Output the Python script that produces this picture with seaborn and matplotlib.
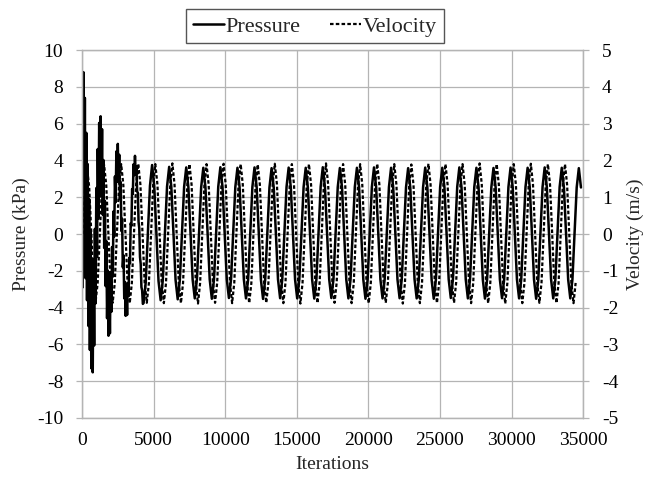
import numpy as np
import pandas as pd
import matplotlib
matplotlib.use("Agg")
import matplotlib.pyplot as plt
import seaborn as sns

# === DATOS ===
# presion al inicio (cada 50 iteraciones, con el ruido de alta frecuencia)
pressure_early = [
    5.0, -2.9, 8.8, -1.5, 7.4, -2.4, 5.5, -3.6, 3.8, -5.0,
    1.9, -6.3, 0.2, -7.3, -2.0, -7.52, -1.39, -6.06, 0.28, -3.77,
    2.5, -1.25, 4.62, 0.85, 6.04, 2.03, 6.4, 2.09, 5.7, 1.05,
    4.02, -0.76, 1.8, -2.83, -0.38, -4.58, -1.98, -5.53, -2.6, -5.4,
    -2.12, -4.23, -0.71, -2.32, 1.23, -0.14, 3.13, 1.73, 4.49, 2.83,
    4.9, 2.88, 4.31, 1.89, 2.83, 0.16, 0.83, -1.81, -1.16, -3.5,
    -2.61, -4.45, -3.15, -4.4, -2.67, -3.35, -1.3, -1.59, 0.58, 0.44,
    2.44, 2.18, 3.79, 3.2, 4.25, 3.25, 3.68, 2.31, 2.24, 0.66,
    0.3, -1.25, -1.63, -2.89, -3.06, -3.8,
]

# presion en regimen (cada 149 iteraciones desde 4300)
pressure_late = [
    -3.75, -2.65, 0.02, 2.62, 3.75, 2.6, 0.05, -2.55,
    -3.6, -2.53, 0.04, 2.58, 3.65, 2.57, 0.06, -2.5,
    -3.55, -2.5, 0.05, 2.56, 3.62, 2.55, 0.05, -2.48,
    -3.5, -2.47, 0.05, 2.55, 3.6, 2.54, 0.06, -2.47,
    -3.52, -2.48, 0.04, 2.57, 3.63, 2.56, 0.05, -2.46,
    -3.48, -2.46, 0.06, 2.55, 3.6, 2.55, 0.04, -2.47,
    -3.5, -2.47, 0.05, 2.56, 3.62, 2.55, 0.05, -2.49,
    -3.53, -2.49, 0.04, 2.53, 3.58, 2.53, 0.06, -2.46,
    -3.49, -2.47, 0.05, 2.55, 3.61, 2.55, 0.05, -2.47,
    -3.5, -2.47, 0.05, 2.55, 3.6, 2.54, 0.04, -2.48,
    -3.51, -2.48, 0.06, 2.57, 3.63, 2.56, 0.05, -2.46,
    -3.48, -2.46, 0.05, 2.54, 3.59, 2.54, 0.05, -2.47,
    -3.5, -2.47, 0.05, 2.55, 3.6, 2.55, 0.06, -2.49,
    -3.52, -2.49, 0.04, 2.56, 3.62, 2.55, 0.05, -2.47,
    -3.5, -2.47, 0.05, 2.55, 3.6, 2.54, 0.05, -2.47,
    -3.49, -2.47, 0.06, 2.53, 3.58, 2.53, 0.04, -2.47,
    -3.5, -2.47, 0.05, 2.55, 3.61, 2.55, 0.05, -2.49,
    -3.52, -2.49, 0.05, 2.55, 3.6, 2.55, 0.06, -2.46,
    -3.48, -2.46, 0.04, 2.56, 3.62, 2.56, 0.05, -2.47,
    -3.5, -2.47, 0.05, 2.55, 3.6, 2.54, 0.05, -2.48,
    -3.51, -2.48, 0.06, 2.54, 3.59, 2.54, 0.04, -2.47,
    -3.49, -2.47, 0.05, 2.55, 3.61, 2.55, 0.05, -2.47,
    -3.5, -2.47, 0.05, 2.55, 3.6, 2.55, 0.06, -2.49,
    -3.52, -2.49, 0.04, 2.56, 3.62, 2.56, 0.05, -2.47,
    -3.5, -2.47, 0.05, 2.55, 3.6, 2.54, 0.05, -2.47,
    -3.5, -2.47, 0.05, 2.53, 3.58, 2.53,
]

# velocidad (m/s, cada 149 iteraciones desde 54)
velocity = [
    0.0, 1.2,
    1.8, 1.28, 0.02, -1.3, -1.85, -1.31, 0.0, 1.32,
    1.88, 1.33, 0.01, -1.32, -1.87, -1.33, 0.01, 1.34,
    1.9, 1.34, 0.01, -1.33, -1.88, -1.33, 0.01, 1.34,
    1.91, 1.35, 0.02, -1.32, -1.87, -1.33, 0.0, 1.34,
    1.9, 1.34, 0.01, -1.33, -1.88, -1.34, 0.01, 1.35,
    1.92, 1.35, 0.01, -1.33, -1.88, -1.33, 0.02, 1.34,
    1.9, 1.34, 0.0, -1.34, -1.89, -1.33, 0.01, 1.34,
    1.9, 1.35, 0.01, -1.33, -1.87, -1.32, 0.01, 1.35,
    1.91, 1.34, 0.02, -1.33, -1.88, -1.33, 0.0, 1.34,
    1.9, 1.34, 0.01, -1.33, -1.88, -1.34, 0.01, 1.34,
    1.89, 1.34, 0.01, -1.32, -1.87, -1.33, 0.02, 1.35,
    1.91, 1.35, 0.01, -1.33, -1.88, -1.33, 0.01, 1.34,
    1.9, 1.34, 0.0, -1.34, -1.89, -1.33, 0.01, 1.34,
    1.9, 1.34, 0.01, -1.33, -1.88, -1.33, 0.01, 1.35,
    1.92, 1.35, 0.02, -1.33, -1.87, -1.32, 0.0, 1.34,
    1.9, 1.34, 0.01, -1.33, -1.88, -1.34, 0.01, 1.34,
    1.9, 1.34, 0.01, -1.33, -1.88, -1.33, 0.02, 1.35,
    1.91, 1.35, 0.01, -1.32, -1.87, -1.33, 0.01, 1.34,
    1.9, 1.34, 0.0, -1.34, -1.89, -1.33, 0.01, 1.34,
    1.89, 1.34, 0.01, -1.33, -1.88, -1.33, 0.01, 1.35,
    1.91, 1.35, 0.02, -1.33, -1.88, -1.34, 0.0, 1.34,
    1.9, 1.34, 0.01, -1.33, -1.87, -1.32, 0.01, 1.34,
    1.9, 1.34, 0.01, -1.33, -1.88, -1.33, 0.02, 1.35,
    1.92, 1.35, 0.01, -1.32, -1.88, -1.33, 0.01, 1.34,
    1.9, 1.34, 0.0, -1.34, -1.89, -1.33, 0.01, 1.34,
    1.9, 1.34, 0.01, -1.33, -1.88, -1.33, 0.01, 1.35,
    1.91, 1.35, 0.02, -1.33, -1.87, -1.33, 0.0, 1.34,
    1.9, 1.34, 0.01, -1.33, -1.88, -1.34, 0.01, 1.34,
    1.9, 1.34, 0.01, -1.33, -1.88, -1.33,
]

x_ticks = [0, 5000, 10000, 15000, 20000, 25000, 30000, 35000]
p_ticks = [-10, -8, -6, -4, -2, 0, 2, 4, 6, 8, 10]
v_ticks = [-5, -4, -3, -2, -1, 0, 1, 2, 3, 4, 5]

# === TABLAS ===
df_p = pd.DataFrame({
    "ITER": np.concatenate([50 * np.arange(len(pressure_early)),
                            4300 + 149 * np.arange(len(pressure_late))]),
    "PRESION": pressure_early + pressure_late,
})
df_v = pd.DataFrame({
    "ITER": 54 + 149 * np.arange(len(velocity)),
    "VELOCIDAD": velocity,
})

# === ESTILO ===
sns.set_theme(style="whitegrid")
plt.rcParams["font.family"] = ["Liberation Serif", "DejaVu Serif"]
plt.rcParams["axes.unicode_minus"] = False
plt.rcParams["path.simplify"] = False

gris = "#b4b4b4"
fig, ax = plt.subplots(figsize=(6.56, 4.86), dpi=100)
fig.subplots_adjust(left=0.125, right=0.889, top=0.897, bottom=0.14)
ax2 = ax.twinx()

sns.lineplot(data=df_p, x="ITER", y="PRESION", ax=ax, color="black",
             linewidth=1.8, estimator=None, sort=False, legend=False)
sns.lineplot(data=df_v, x="ITER", y="VELOCIDAD", ax=ax2, color="black",
             linewidth=1.6, linestyle=(0, (1.6, 1.0)), estimator=None,
             sort=False, legend=False)

ax.set_xlim(0, 35000)
ax.set_ylim(-10, 10)
ax2.set_ylim(-5, 5)
ax.set_xticks(x_ticks)
ax.set_yticks(p_ticks)
ax2.set_yticks(v_ticks)
ax2.grid(False)
ax.grid(True, color=gris, linewidth=0.9)

ax.set_xlabel("Iterations", fontsize=14, labelpad=5)
ax.set_ylabel("Pressure (kPa)", fontsize=14, labelpad=5)
ax2.set_ylabel("Velocity (m/s)", fontsize=14, labelpad=6)

ax.tick_params(axis="x", length=0, pad=10, labelsize=14, colors="black")
ax.tick_params(axis="y", length=4.5, width=0.9, pad=9, labelsize=14,
               color=gris, labelcolor="black", left=True)
ax2.tick_params(axis="y", length=4.5, width=0.9, pad=9, labelsize=14,
                color=gris, labelcolor="black", right=True)

for a in (ax, ax2):
    for s in a.spines.values():
        s.set_color(gris)
        s.set_linewidth(0.9)

# === LEYENDA ===
handles = [ax.lines[0], ax2.lines[0]]
fig.legend(handles, ["Pressure", "Velocity"], loc="center",
           bbox_to_anchor=(0.48, 0.946), ncol=2, fontsize=16,
           frameon=True, fancybox=False, edgecolor="#555555",
           framealpha=1, handlelength=1.4, handletextpad=0.1,
           columnspacing=1.3, borderpad=0.3)

fig.savefig("out.png", dpi=100)
